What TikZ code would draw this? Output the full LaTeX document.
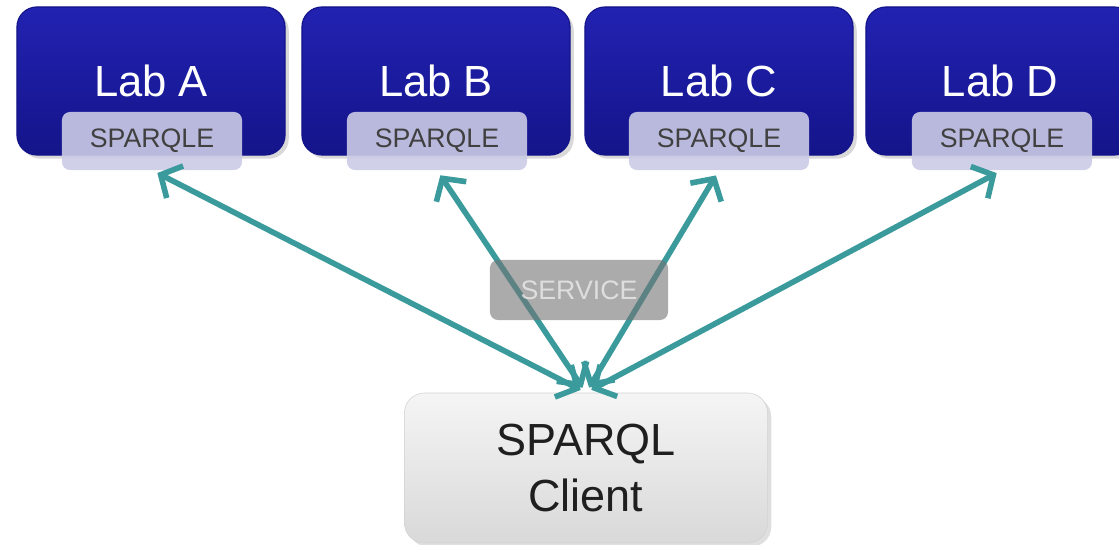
\documentclass[tikz,border=0pt]{standalone}
\usepackage{fontspec}
\setmainfont{Liberation Sans}
\usetikzlibrary{arrows.meta}
\usetikzlibrary{shadows}
\usetikzlibrary{positioning}
\definecolor{labblue}{HTML}{2222B2}
\definecolor{labbluedark}{HTML}{14148A}
\definecolor{sparqlefill}{HTML}{CBCBE6}
\definecolor{linkteal}{HTML}{3A9A9C}
\tikzstyle{lab}=[draw=labbluedark, line width=0.3mm, top color=labblue, bottom color=labbluedark, rounded corners=5mm, minimum width=6.7cm, minimum height=3.7cm, text=white, font={\fontsize{31}{31}\selectfont}, drop shadow={opacity=0.3}]
\tikzstyle{endpoint}=[fill=sparqlefill, fill opacity=0.9, text opacity=1, text=black!75, rounded corners=2mm, minimum width=4.5cm, minimum height=1.45cm, font={\fontsize{19}{19}\selectfont}]
\tikzstyle{link}=[{Straight Barb[length=4mm, width=9mm]}-{Straight Barb[length=4mm, width=9mm]}, line width=1.4mm, draw=linkteal, shorten >=1.5mm, shorten <=1.5mm]

\begin{document}
\begin{tikzpicture}[x=0.025cm, y=-0.025cm]
    \useasboundingbox (0,0) rectangle (1119,545);

    \node[lab] (labA) at (151, 81) {Lab A};
    \node[lab] (labB) at (436, 81) {Lab B};
    \node[lab] (labC) at (719, 81) {Lab C};
    \node[lab] (labD) at (1000, 81) {Lab D};

    \node[endpoint] (spA) at (152, 141) {SPARQLE};
    \node[endpoint] (spB) at (437, 141) {SPARQLE};
    \node[endpoint] (spC) at (719, 141) {SPARQLE};
    \node[endpoint] (spD) at (1002, 141) {SPARQLE};

    \node[top color=gray!8, bottom color=gray!30, draw=gray!35, rounded corners=5mm, minimum width=9.075cm, minimum height=3.75cm, align=center, font={\fontsize{32}{40}\selectfont}, text=black!88, drop shadow={opacity=0.25}] (client) at (586, 468) {SPARQL\\Client};

    \draw[link] (client.north) -- (spA.south);
    \draw[link] (client.north) -- (spB.south);
    \draw[link] (client.north) -- (spC.south);
    \draw[link] (client.north) -- (spD.south);

    \node[fill=black!55, fill opacity=0.6, text=white!92!black, text opacity=0.8, rounded corners=2mm, minimum width=4.45cm, minimum height=1.5cm, font={\fontsize{19}{19}\selectfont}] (service) at (579, 290) {SERVICE};

\end{tikzpicture}
\end{document}
